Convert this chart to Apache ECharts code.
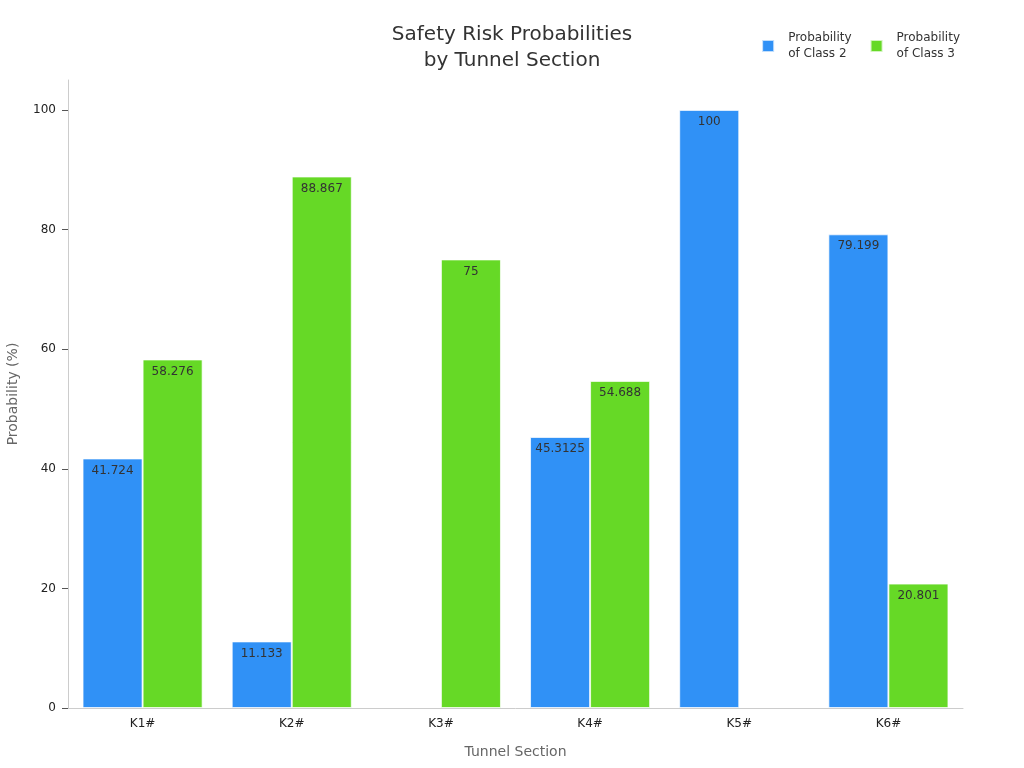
<!DOCTYPE html>
<html>
<head>
<meta charset="utf-8">
<script src="https://cdn.jsdelivr.net/npm/echarts@6/dist/echarts.min.js"></script>
<style>
html, body { margin: 0; padding: 0; background: #fff; }
#chart { width: 1024px; height: 768px; }
</style>
</head>
<body>
<div id="chart"></div>
<script>
const sections = ['K1#', 'K2#', 'K3#', 'K4#', 'K5#', 'K6#']
const class2 = [41.724, 11.133, 0, 45.3125, 100, 79.199]
const class3 = [58.276, 88.867, 75, 54.688, 0, 20.801]
const seriesNames = ['Probability\nof Class 2', 'Probability\nof Class 3']

const chart = echarts.init(document.getElementById('chart'))
const font = 'DejaVu Sans'

const barLabel = {
    show: true,
    position: 'insideTop',
    distance: 6,
    color: '#333',
    fontSize: 12,
    fontFamily: font,
    formatter: p => (p.value === 0 ? '' : String(p.value))
}

// zero values get no border so no hairline is drawn
const toBars = values => values.map(v => (v === 0 ? { value: v, itemStyle: { borderWidth: 0 } } : v))

const option = {
    textStyle: { fontFamily: font },
    title: {
        text: 'Safety Risk Probabilities\nby Tunnel Section',
        left: 'center',
        top: 17,
        textStyle: {
            fontFamily: font,
            fontSize: 20,
            fontWeight: 'normal',
            color: '#333',
            lineHeight: 26,
            align: 'center'
        }
    },
    legend: {
        top: 25,
        right: 59,
        itemWidth: 12,
        itemHeight: 12,
        itemGap: 18,
        icon: 'rect',
        textStyle: { fontFamily: font, fontSize: 12, color: '#333', lineHeight: 16, padding: [0, 0, 0, 9] },
        data: seriesNames
    },
    grid: {
        left: 68,
        right: 61,
        top: 80,
        bottom: 60,
        outerBoundsMode: 'none',
        containLabel: false
    },
    xAxis: {
        type: 'category',
        data: sections,
        name: 'Tunnel Section',
        nameLocation: 'middle',
        nameGap: 37,
        nameTextStyle: { fontFamily: font, fontSize: 14, color: '#666' },
        axisLine: { lineStyle: { color: '#ccc' } },
        axisTick: { alignWithLabel: true, length: 5, lineStyle: { color: '#555' } },
        axisLabel: { color: '#222', fontSize: 12, fontFamily: font, margin: 10 }
    },
    yAxis: {
        type: 'value',
        min: 0,
        max: 105,
        interval: 20,
        name: 'Probability (%)',
        nameLocation: 'middle',
        nameGap: 48,
        nameTextStyle: { fontFamily: font, fontSize: 14, color: '#666' },
        axisLine: { show: true, lineStyle: { color: '#ccc' } },
        axisTick: { show: true, length: 6, lineStyle: { color: '#555' } },
        axisLabel: { color: '#222', fontSize: 12, fontFamily: font, margin: 12, showMaxLabel: false },
        splitLine: { show: false }
    },
    series: [
        {
            name: seriesNames[0],
            type: 'bar',
            data: toBars(class2),
            barGap: '0%',
            barCategoryGap: '19.5%',
            itemStyle: { color: '#3091f6', borderColor: 'rgba(255,255,255,0.7)', borderWidth: 1 },
            label: barLabel
        },
        {
            name: seriesNames[1],
            type: 'bar',
            data: toBars(class3),
            barGap: '0%',
            barCategoryGap: '19.5%',
            itemStyle: { color: '#66d926', borderColor: 'rgba(255,255,255,0.7)', borderWidth: 1 },
            label: barLabel
        }
    ]
}

chart.setOption(option)
</script>
</body>
</html>
